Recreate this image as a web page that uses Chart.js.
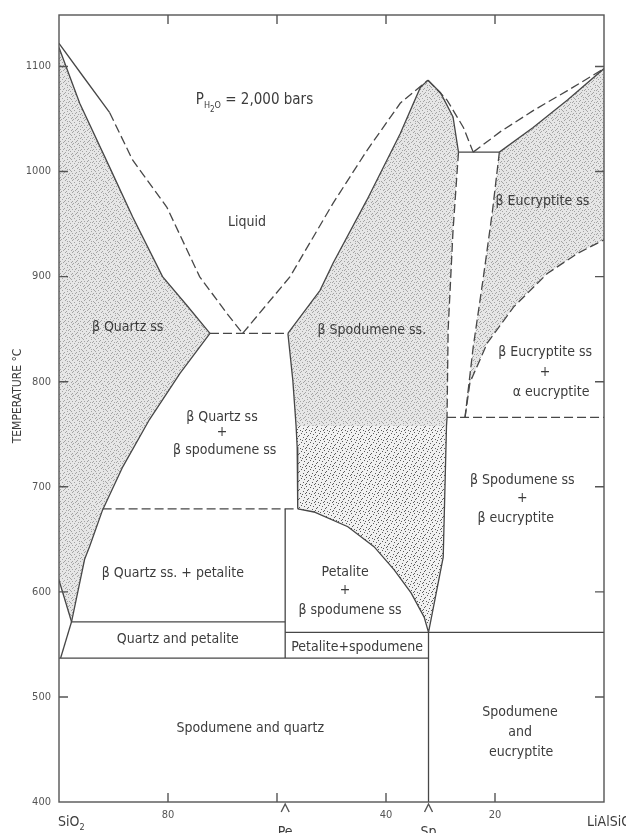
<!DOCTYPE html>
<html>
<head>
<meta charset="utf-8">
<script src="https://cdn.jsdelivr.net/npm/chart.js@4.4.1/dist/chart.umd.min.js"></script>
<style>
  html, body { margin: 0; padding: 0; background: #fff; }
  canvas { display: block; }
</style>
</head>
<body>
<canvas id="diagram" width="626" height="833"></canvas>
<script>
// x = weight percent SiO2 (100 = SiO2, 0 = LiAlSiO4), y = temperature in °C
const xTickValues = [80, 60, 40, 20];
const xTickLabels = { 80: '80', 40: '40', 20: '20' };
const yTickValues = [400, 500, 600, 700, 800, 900, 1000, 1100];

const petaliteComp = 58.5;
const spodumeneComp = 32.2;

// phase boundaries, [composition, temperature]
const quartzLiquidusTop = [[100, 1122], [95.5, 1090], [90.7, 1056]];
const quartzLiquidus = [[90.7, 1056], [86.5, 1011], [80.2, 966], [74.2, 900], [69.2, 865], [66.3, 846]];
const quartzSolidus = [[100, 1118], [96.2, 1065], [90.7, 1004], [86.5, 957], [81.0, 900], [76.6, 873], [72.3, 846]];
const quartzSolvus = [[72.3, 846], [77.8, 808], [83.4, 764], [88.3, 719], [92.0, 678], [94.4, 643], [95.3, 631], [97.7, 571.5]];
const quartzLowA = [[100, 611], [97.7, 571.5]];
const quartzLowB = [[99.7, 537], [97.7, 571.5]];
const eutecticLine = [[72.3, 846], [58.0, 846]];
const spodLiquidusLeft = [[66.3, 846], [57.6, 900], [49.7, 970], [43.5, 1020], [37.4, 1065], [32.3, 1087]];
const spodSolidusLeft = [[58.0, 846], [52.1, 887], [49.7, 913], [43.5, 973], [37.4, 1036], [33.7, 1080], [32.3, 1087]];
const spodSolvusLeft = [[58.0, 846], [57.1, 801.5], [56.5, 758], [56.3, 738], [56.2, 679]];
const line679 = [[92.0, 679], [56.2, 679]];
const petaliteArc = [[56.2, 679], [53.2, 676], [47.0, 662], [42.2, 643], [38.5, 621], [35.4, 599], [33.0, 576], [32.2, 561.5]];
const spodSolidusRight = [[32.3, 1087], [30.0, 1075], [27.7, 1052], [26.7, 1018.5]];
const spodLiquidusRight = [[32.3, 1087], [28.8, 1068], [25.8, 1042], [24.0, 1018.5]];
const peritecticLine = [[26.7, 1018.5], [19.2, 1018.5]];
const eucLiquidus = [[24.0, 1018.5], [19.0, 1038], [13.0, 1058], [6.7, 1077], [0, 1098]];
const eucSolidus = [[19.2, 1018.5], [13.0, 1042], [6.7, 1068], [0, 1098]];
const spodSolvusRight = [[26.7, 1018.5], [27.7, 944], [28.6, 849], [28.8, 766]];
const spodSolvusLow = [[28.8, 766], [28.9, 758], [29.5, 633], [32.2, 561.5]];
const eucSolvusLeft = [[19.2, 1018.5], [20.5, 961], [22.2, 897], [24.0, 833], [25.5, 766]];
const eucSolvusRight = [[25.5, 766], [24.6, 799], [21.4, 837], [16.6, 871], [10.4, 903], [4.9, 922], [0, 935]];
const eucInversion = [[28.8, 766], [0, 766]];
const line571 = [[97.7, 571.5], [58.5, 571.5]];
const line561 = [[58.5, 561.5], [0, 561.5]];
const line537 = [[100, 537], [32.2, 537]];
const peVertical = [[58.5, 679], [58.5, 537]];
const spVertical = [[32.2, 561.5], [32.2, 400]];

// field names, [text, composition, temperature]
const fieldLabels = [
  ['Liquid', 65.5, 952],
  ['β Quartz ss', 87.4, 852],
  ['β Quartz ss', 70.1, 766],
  ['+', 70.1, 752],
  ['β spodumene ss', 69.6, 735],
  ['β Spodumene ss.', 42.6, 849],
  ['β Eucryptite ss', 11.3, 972],
  ['β Eucryptite ss', 10.8, 828],
  ['+', 10.8, 809],
  ['α eucryptite', 9.7, 790],
  ['β Spodumene ss', 15.0, 706],
  ['+', 15.0, 689],
  ['β eucryptite', 16.2, 670],
  ['β Quartz ss. + petalite', 79.1, 618],
  ['Quartz and petalite', 78.2, 555],
  ['Petalite', 47.5, 619],
  ['+', 47.5, 601],
  ['β spodumene ss', 46.6, 582],
  ['Petalite+spodumene', 45.3, 547.5],
  ['Spodumene and quartz', 64.9, 470],
  ['Spodumene', 15.4, 485.5],
  ['and', 15.4, 466.5],
  ['eucryptite', 15.2, 447]
];

const FONT = '"DejaVu Sans Condensed", "Liberation Sans Narrow", "DejaVu Sans", sans-serif';
const INK = '#474747';

function makePattern(bg, dot, size, dots) {
  const c = document.createElement('canvas');
  c.width = size;
  c.height = size;
  const g = c.getContext('2d');
  g.fillStyle = bg;
  g.fillRect(0, 0, size, size);
  g.fillStyle = dot;
  dots.forEach(([px, py]) => g.fillRect(px, py, 1, 1));
  return g.createPattern(c, 'repeat');
}

// texture tiles for the single-phase fields
const fineStipple = makePattern('#e6e6e6', '#a4a4a4', 12, [
  [0, 0], [5, 0], [9, 1], [2, 2], [7, 3], [11, 3], [4, 4], [0, 5], [9, 5], [6, 6],
  [2, 7], [10, 7], [5, 8], [8, 9], [0, 9], [3, 10], [11, 10], [6, 11], [1, 11], [7, 1],
  [3, 5], [10, 2], [8, 6], [4, 9]
]);
const coarseStipple = makePattern('#f1f1f1', '#5c5c5c', 9, [
  [0, 0], [4, 1], [7, 2], [2, 3], [6, 5], [0, 6], [3, 7], [8, 7], [5, 8], [1, 4]
]);

const quartzField = [...quartzSolidus, ...quartzSolvus.slice(1), [100, 611]];
const spodField = [...spodSolidusRight, ...spodSolvusRight.slice(1), ...spodSolvusLow.slice(1),
  ...petaliteArc.slice(0, -1).reverse(), ...spodSolvusLeft.slice(0, -1).reverse(), ...spodSolidusLeft.slice(1, -1)];
const spodLowField = [...spodSolvusLeft.slice(2), ...petaliteArc.slice(1), [29.5, 633], [28.9, 758]];
const eucField = [...eucSolvusLeft, ...eucSolvusRight.slice(1), ...eucSolidus.slice().reverse().slice(0, -1)];

const pts = arr => arr.map(([x, y]) => ({ x, y }));

function boundary(arr, dashed) {
  return {
    data: pts(arr), showLine: true, fill: false, tension: 0,
    borderColor: INK, borderWidth: 1.3, borderDash: dashed ? [9, 4] : [],
    pointRadius: 0, order: 0
  };
}

function field(arr, pattern, order) {
  return {
    data: pts(arr), showLine: true, fill: 'shape', tension: 0,
    backgroundColor: pattern, borderColor: 'rgba(0,0,0,0)', borderWidth: 0,
    pointRadius: 0, order: order
  };
}

const datasets = [
  field(quartzField, fineStipple, 2),
  field(spodField, fineStipple, 2),
  field(spodLowField, coarseStipple, 1),
  field(eucField, fineStipple, 2),
  boundary(quartzLiquidusTop, false),
  boundary(quartzLiquidus, true),
  boundary(quartzSolidus, false),
  boundary(quartzSolvus, false),
  boundary(quartzLowA, false),
  boundary(quartzLowB, false),
  boundary(eutecticLine, true),
  boundary(spodLiquidusLeft, true),
  boundary(spodSolidusLeft, false),
  boundary(spodSolvusLeft, false),
  boundary(line679, true),
  boundary(petaliteArc, false),
  boundary(spodSolidusRight, false),
  boundary(spodLiquidusRight, true),
  boundary(peritecticLine, false),
  boundary(eucLiquidus, true),
  boundary(eucSolidus, false),
  boundary(spodSolvusRight, true),
  boundary(spodSolvusLow, false),
  boundary(eucSolvusLeft, true),
  boundary(eucSolvusRight, true),
  boundary(eucInversion, true),
  boundary(line571, false),
  boundary(line561, false),
  boundary(line537, false),
  boundary(peVertical, false),
  boundary(spVertical, false)
];

const decorations = {
  id: 'decorations',
  afterDraw(chart) {
    const { ctx, chartArea: a } = chart;
    const x = chart.scales.x, y = chart.scales.y;
    ctx.save();

    // frame and inward ticks
    ctx.strokeStyle = '#555';
    ctx.lineWidth = 1.4;
    ctx.setLineDash([]);
    ctx.strokeRect(a.left, a.top, a.right - a.left, a.bottom - a.top);
    ctx.beginPath();
    xTickValues.forEach(v => {
      const px = x.getPixelForValue(v);
      ctx.moveTo(px, a.bottom); ctx.lineTo(px, a.bottom - 9);
      ctx.moveTo(px, a.top); ctx.lineTo(px, a.top + 9);
    });
    yTickValues.slice(1).forEach(v => {
      const py = y.getPixelForValue(v);
      ctx.moveTo(a.left, py); ctx.lineTo(a.left + 9, py);
      ctx.moveTo(a.right, py); ctx.lineTo(a.right - 9, py);
    });
    // carets under the axis for petalite and spodumene
    [petaliteComp, spodumeneComp].forEach(v => {
      const px = x.getPixelForValue(v);
      ctx.moveTo(px - 4, a.bottom + 10); ctx.lineTo(px, a.bottom + 2); ctx.lineTo(px + 4, a.bottom + 10);
    });
    ctx.stroke();

    // field names
    ctx.fillStyle = '#3c3c3c';
    ctx.textAlign = 'center';
    ctx.textBaseline = 'middle';
    ctx.font = '14px ' + FONT;
    fieldLabels.forEach(([t, c, temp]) => {
      ctx.fillText(t, x.getPixelForValue(c), y.getPixelForValue(temp));
    });

    // P(H2O) = 2,000 bars
    ctx.textAlign = 'left';
    ctx.textBaseline = 'alphabetic';
    let px = x.getPixelForValue(74.9);
    const py = y.getPixelForValue(1064);
    const put = (s, size, dy) => {
      ctx.font = size + 'px ' + FONT;
      ctx.fillText(s, px, py + dy);
      px += ctx.measureText(s).width;
    };
    put('P', 15, 0);
    put('H', 9, 4);
    put('2', 8, 8);
    put('O', 9, 4);
    put(' = 2,000 bars', 15, 0);

    // end members and compounds under the axis
    ctx.font = '14px ' + FONT;
    ctx.textBaseline = 'top';
    ctx.fillText('SiO', x.getPixelForValue(100) - 1, a.bottom + 13);
    let w = ctx.measureText('SiO').width;
    ctx.font = '9px ' + FONT;
    ctx.fillText('2', x.getPixelForValue(100) - 1 + w, a.bottom + 21);
    ctx.font = '14px ' + FONT;
    ctx.fillText('LiAlSiO', x.getPixelForValue(0) - 17, a.bottom + 13);
    w = ctx.measureText('LiAlSiO').width;
    ctx.font = '9px ' + FONT;
    ctx.fillText('4', x.getPixelForValue(0) - 17 + w, a.bottom + 21);
    ctx.font = '14px ' + FONT;
    ctx.textAlign = 'center';
    ctx.fillText('Pe', x.getPixelForValue(petaliteComp), a.bottom + 23);
    ctx.fillText('Sp', x.getPixelForValue(spodumeneComp), a.bottom + 23);

    // axis title
    ctx.translate(18, 396);
    ctx.rotate(-Math.PI / 2);
    ctx.font = '12px ' + FONT;
    ctx.textBaseline = 'middle';
    ctx.fillText('TEMPERATURE °C', 0, 0);
    ctx.restore();
  }
};

Chart.defaults.font.family = FONT;

new Chart(document.getElementById('diagram'), {
  type: 'scatter',
  data: { datasets: datasets },
  options: {
    responsive: false,
    animation: false,
    layout: { padding: { top: 15, right: 22, left: 0, bottom: 0 } },
    plugins: { legend: { display: false }, tooltip: { enabled: false } },
    scales: {
      x: {
        type: 'linear', min: 0, max: 100, reverse: true,
        grid: { display: false, drawTicks: false },
        border: { display: false },
        ticks: {
          stepSize: 20, padding: 7, color: '#555', font: { size: 11 },
          maxRotation: 0, autoSkip: false,
          callback: v => xTickLabels[v] || ''
        },
        afterFit: s => { s.height = 31; }
      },
      y: {
        type: 'linear', min: 400, max: 1149,
        grid: { display: false, drawTicks: false },
        border: { display: false },
        ticks: {
          stepSize: 100, includeBounds: false, padding: 8, color: '#555', font: { size: 11 },
          callback: v => String(v)
        },
        afterFit: s => { s.width = 59; }
      }
    }
  },
  plugins: [decorations]
});
</script>
</body>
</html>
